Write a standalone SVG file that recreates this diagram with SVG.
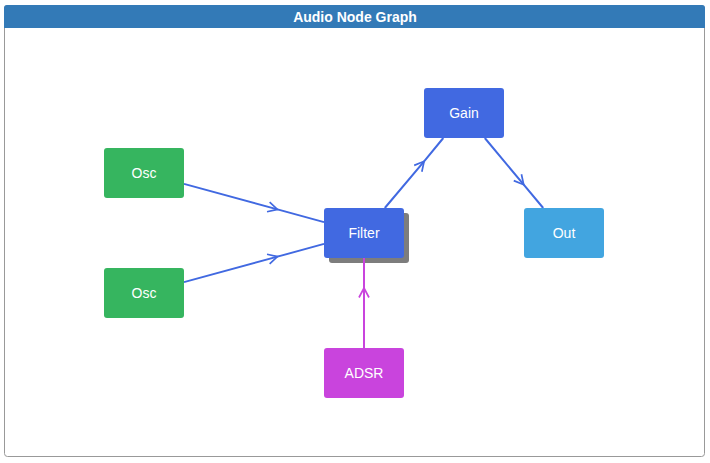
<svg xmlns="http://www.w3.org/2000/svg" width="710" height="463" viewBox="0 0 710 463">
<style>
.lbl{font-family:"Liberation Sans","DejaVu Sans",sans-serif;font-size:14px;fill:#ffffff;text-anchor:middle;dominant-baseline:central}
.title{font-family:"Liberation Sans","DejaVu Sans",sans-serif;font-size:14px;font-weight:bold;fill:#ffffff;text-anchor:middle;dominant-baseline:central}
.edge{fill:none;stroke-width:2}
.blue{stroke:#4169e1}
.purple{stroke:#c944dd}
</style>
<defs>
<marker id="ab" viewBox="0 0 12 12" refX="10.5" refY="6" markerWidth="12" markerHeight="12" markerUnits="userSpaceOnUse" orient="auto">
<path d="M1,1 L10.5,6 L1,11" fill="none" stroke="#4169e1" stroke-width="1.7"/>
</marker>
<marker id="ap" viewBox="0 0 12 12" refX="10.5" refY="6" markerWidth="12" markerHeight="12" markerUnits="userSpaceOnUse" orient="auto">
<path d="M1,1 L10.5,6 L1,11" fill="none" stroke="#c944dd" stroke-width="1.7"/>
</marker>
<filter id="sh" x="-20%" y="-20%" width="140%" height="140%">
<feGaussianBlur stdDeviation="0.5"/>
</filter>
</defs>
<rect x="4.5" y="5.5" width="700" height="451" rx="3" fill="#ffffff" stroke="#999999"/>
<path d="M4,8 a3,3 0 0 1 3,-3 h695 a3,3 0 0 1 3,3 v20 h-701 z" fill="#337ab7"/>
<text class="title" x="355" y="16.5">Audio Node Graph</text>
<rect x="329" y="213" width="80" height="50" rx="3" fill="#7d7d7d" filter="url(#sh)"/>
<g id="edges">
<path class="edge blue" d="M184,183.9 L277.5,209.4 L324,222.1" marker-mid="url(#ab)"/>
<path class="edge blue" d="M184,282.1 L277.5,256.6 L324,243.9" marker-mid="url(#ab)"/>
<path class="edge blue" d="M384.8,208 L424.1,161.3 L443.3,138" marker-mid="url(#ab)"/>
<path class="edge blue" d="M484.8,138 L523.7,184.7 L543.2,208" marker-mid="url(#ab)"/>
<path class="edge purple" d="M364,348 L364,288 L364,258" marker-mid="url(#ap)"/>
</g>
<g id="osc1"><rect x="104" y="148" width="80" height="50" rx="3" fill="#36b55f"/><text class="lbl" x="144" y="172.5">Osc</text></g>
<g id="osc2"><rect x="104" y="268" width="80" height="50" rx="3" fill="#36b55f"/><text class="lbl" x="144" y="292.5">Osc</text></g>
<g id="filter"><rect x="324" y="208" width="80" height="50" rx="3" fill="#4169e1"/><text class="lbl" x="364" y="232.5">Filter</text></g>
<g id="gain"><rect x="424" y="88" width="80" height="50" rx="3" fill="#4169e1"/><text class="lbl" x="464" y="112.5">Gain</text></g>
<g id="out"><rect x="524" y="208" width="80" height="50" rx="3" fill="#42a5e0"/><text class="lbl" x="564" y="232.5">Out</text></g>
<g id="adsr"><rect x="324" y="348" width="80" height="50" rx="3" fill="#c944dd"/><text class="lbl" x="364" y="372.5">ADSR</text></g>
</svg>
